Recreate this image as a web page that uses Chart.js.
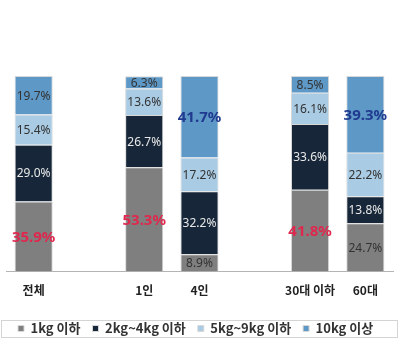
<!DOCTYPE html>
<html><head><meta charset="utf-8">
<script src="https://cdn.jsdelivr.net/npm/chart.js@4"></script>
<style>html,body{margin:0;padding:0;background:#fff}#wrap{width:400px;height:356px}</style>
</head><body><div id="wrap"><canvas id="c" width="400" height="356"></canvas></div>
<script>
const categories = ['전체', '', '1인', '4인', '', '30대 이하', '60대'];
const seriesNames = ['1kg 이하', '2kg~4kg 이하', '5kg~9kg 이하', '10kg 이상'];
const s1kg   = [35.9, null, 53.3, 8.9,  null, 41.8, 24.7];
const s2to4  = [29.0, null, 26.7, 32.2, null, 33.6, 13.8];
const s5to9  = [15.4, null, 13.6, 17.2, null, 16.1, 22.2];
const s10kg  = [19.7, null, 6.3,  41.7, null, 8.5,  39.3];

const colors = ['#7f7f7f', '#172739', '#a9cbe3', '#5e98c6'];
const labelColors = ['#333333', '#e8e8e8', '#333333', '#333333'];
const highlightColors = ['#e0284e', null, null, '#1f3a8f'];

const labelPlugin = {
  id: 'segLabels',
  afterDatasetsDraw(chart) {
    const ctx = chart.ctx;
    ctx.save();
    ctx.textAlign = 'center';
    ctx.textBaseline = 'middle';
    chart.data.datasets.forEach((ds, di) => {
      const meta = chart.getDatasetMeta(di);
      meta.data.forEach((el, i) => {
        const v = ds.data[i];
        if (v == null) return;
        const hl = highlightColors[di] && v >= 35;
        ctx.font = hl ? 'bold 15px "Noto Sans", sans-serif' : '12px "Noto Sans", sans-serif';
        ctx.fillStyle = hl ? highlightColors[di] : labelColors[di];
        const y = (el.y + el.base) / 2;
        ctx.fillText(v.toFixed(1) + '%', el.x, y + 1);
      });
    });
    ctx.restore();
  },
  afterDraw(chart) {
    const lg = chart.legend;
    const hb = lg.legendHitBoxes[0];
    const cy = Math.round(hb.top + hb.height / 2);
    const ctx = chart.ctx;
    ctx.save();
    ctx.strokeStyle = '#d4d4d4';
    ctx.lineWidth = 1;
    ctx.strokeRect(1.5, cy - 8.5, chart.width - 4, 17);
    ctx.restore();
  }
};

new Chart(document.getElementById('c'), {
  type: 'bar',
  data: {
    labels: categories,
    datasets: [s1kg, s2to4, s5to9, s10kg].map((d, i) => ({
      label: seriesNames[i],
      data: d,
      backgroundColor: colors[i],
      borderColor: '#d8d8d8',
      borderWidth: 1,
      categoryPercentage: 1,
      barPercentage: 0.69
    }))
  },
  options: {
    responsive: false,
    animation: false,
    devicePixelRatio: 1,
    layout: { padding: { top: 76, left: 6, right: 7, bottom: 11 } },
    plugins: {
      tooltip: { enabled: false },
      legend: {
        position: 'bottom',
        align: 'start',
        labels: {
          boxWidth: 6, boxHeight: 6, padding: 12,
          color: '#333',
          font: { family: '"Noto Sans CJK KR", sans-serif', size: 13, weight: 'bold' }
        }
      }
    },
    scales: {
      x: {
        stacked: true,
        grid: { display: false, drawTicks: false },
        border: { display: true, color: '#b4b4b4', width: 1 },
        ticks: {
          padding: 12, color: '#222', autoSkip: false, maxRotation: 0,
          font: { family: '"Noto Sans CJK KR", sans-serif', size: 12, weight: 'bold' }
        }
      },
      y: { stacked: true, display: false, min: 0, max: 100 }
    }
  },
  plugins: [labelPlugin]
});
</script></body></html>
